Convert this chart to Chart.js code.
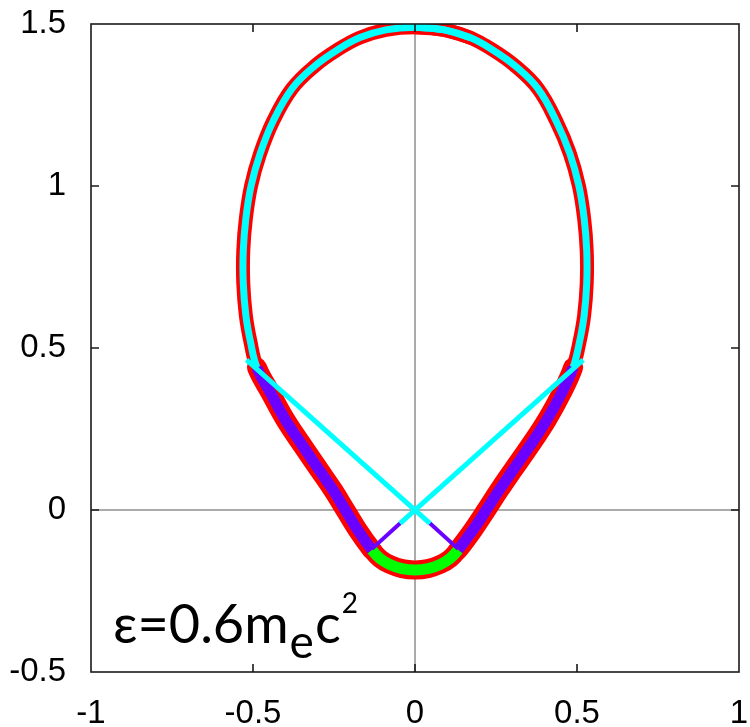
<!DOCTYPE html>
<html>
<head>
<meta charset="utf-8">
<script src="https://cdn.jsdelivr.net/npm/chart.js@4.4.0/dist/chart.umd.min.js"></script>
<style>
  html, body { margin: 0; padding: 0; background: #fff; }
  #wrap { position: relative; width: 750px; height: 727px; }
</style>
</head>
<body>
<div id="wrap"><canvas id="c" width="750" height="727"></canvas></div>
<script>
// ---- data ----
const xTickValues = [-1, -0.5, 0, 0.5, 1];
const xTickLabels = ['-1', '-0.5', '0', '0.5', '1'];
const yTickValues = [-0.5, 0, 0.5, 1, 1.5];
const yTickLabels = ['-0.5', '0', '0.5', '1', '1.5'];

// upper (cyan) boundary, right half: top -> right junction
const capRightX = [0.000,0.090,0.170,0.240,0.310,0.380,0.436,0.478,0.506,0.522,0.530,0.530,0.522,0.508,0.488];
const capRightY = [1.490,1.482,1.458,1.420,1.370,1.300,1.200,1.100,1.000,0.900,0.800,0.700,0.600,0.520,0.440];
// upper (cyan) boundary, left half: left junction -> top
const capLeftX = [-0.488,-0.508,-0.522,-0.530,-0.530,-0.522,-0.506,-0.478,-0.438,-0.380,-0.310,-0.240,-0.170,-0.090];
const capLeftY = [0.440,0.520,0.600,0.700,0.800,0.900,1.000,1.100,1.200,1.300,1.370,1.420,1.458,1.482];

// lower-right (purple) arm: below junction -> bowl
const rightArmX = [0.452,0.408,0.356,0.300,0.259,0.220,0.180,0.133];
const rightArmY = [0.360,0.280,0.200,0.120,0.060,0.000,-0.060,-0.123];
// bottom (green) bowl: right -> left
const bowlX = [0.108,0.078,0.040,0.000,-0.040,-0.078,-0.108];
const bowlY = [-0.150,-0.168,-0.181,-0.185,-0.181,-0.168,-0.150];
// lower-left (purple) arm: bowl -> below junction
const leftArmX = [-0.133,-0.178,-0.215,-0.252,-0.293,-0.348,-0.401,-0.445];
const leftArmY = [-0.123,-0.060,0.000,0.060,0.120,0.200,0.280,0.360];

// straight rays through the origin
const rayAX = [-0.520, 0.046];  const rayAY = [0.463, -0.041];
const tailAX = [0.046, 0.133];  const tailAY = [-0.041, -0.120];
const rayBX = [0.519, -0.046];  const rayBY = [0.463, -0.041];
const tailBX = [-0.046, -0.133]; const tailBY = [-0.041, -0.120];

// zero axes
const hZeroX = [-1, 1]; const hZeroY = [0, 0];
const vZeroX = [0, 0];  const vZeroY = [-0.5, 1.5];

// ---- build the closed boundary (one path, with a short overlap at the top) ----
const pts = (xs, ys) => xs.map((x, i) => ({ x: x, y: ys[i] }));
const loop = [], part = [];
function add(xs, ys, tag) { pts(xs, ys).forEach(p => { loop.push(p); part.push(tag); }); }
add(capRightX, capRightY, 'cap');
add(rightArmX, rightArmY, 'arm');
add(bowlX, bowlY, 'bowl');
add(leftArmX, leftArmY, 'arm');
add(capLeftX, capLeftY, 'cap');
add(capRightX.slice(0, 3), capRightY.slice(0, 3), 'cap');

const segPart = ctx => {
  const a = part[ctx.p0DataIndex], b = part[ctx.p1DataIndex];
  if (a === 'bowl' || b === 'bowl') return 'bowl';
  if (a === 'cap' && b === 'cap') return 'cap';
  return 'arm';
};
const innerColor = { cap: '#00ffff', arm: '#6a00ff', bowl: '#00ff00' };
const innerWidth = { cap: 7, arm: 11, bowl: 11 };
const redWidth = { cap: 14, arm: 20, bowl: 19 };

function ds(data, color, width, order, extra) {
  return Object.assign({
    data: data, showLine: true, borderColor: color, backgroundColor: color,
    borderWidth: width, pointRadius: 0, pointHoverRadius: 0, tension: 0,
    borderJoinStyle: 'round', borderCapStyle: 'butt', fill: false, order: order
  }, extra || {});
}

const datasets = [
  ds(pts(hZeroX, hZeroY), '#8f8f8f', 1.5, 20),
  ds(pts(vZeroX, vZeroY), '#8f8f8f', 1.5, 20),
  ds(loop, '#ff0000', 14, 15, {
    tension: 0.4, borderCapStyle: 'round',
    segment: { borderWidth: c => redWidth[segPart(c)] }
  }),
  ds(loop, '#00ffff', 7, 10, {
    tension: 0.4,
    segment: { borderColor: c => innerColor[segPart(c)], borderWidth: c => innerWidth[segPart(c)] }
  }),
  ds(pts(tailAX, tailAY), '#6a00ff', 4, 5),
  ds(pts(tailBX, tailBY), '#6a00ff', 4, 5),
  ds(pts(rayAX, rayAY), '#00ffff', 5, 4),
  ds(pts(rayBX, rayBY), '#00ffff', 5, 4)
];

const framePlugin = {
  id: 'frame',
  afterDatasetsDraw(chart) {
    const { ctx, chartArea: a, scales } = chart;
    ctx.save();
    ctx.strokeStyle = '#1a1a1a';
    ctx.lineWidth = 1.6;
    ctx.strokeRect(a.left, a.top, a.right - a.left, a.bottom - a.top);
    const tl = 8;
    ctx.beginPath();
    xTickValues.slice(1, -1).forEach(v => {
      const px = scales.x.getPixelForValue(v);
      ctx.moveTo(px, a.bottom); ctx.lineTo(px, a.bottom - tl);
      ctx.moveTo(px, a.top); ctx.lineTo(px, a.top + tl);
    });
    yTickValues.slice(1, -1).forEach(v => {
      const py = scales.y.getPixelForValue(v);
      ctx.moveTo(a.left, py); ctx.lineTo(a.left + tl, py);
      ctx.moveTo(a.right, py); ctx.lineTo(a.right - tl, py);
    });
    ctx.stroke();
    ctx.restore();
  },
  afterDraw(chart) {
    const ctx = chart.ctx;
    ctx.save();
    ctx.fillStyle = '#000';
    ctx.textBaseline = 'alphabetic';
    ctx.textAlign = 'left';
    let x = 113;
    const base = 643;
    ctx.font = '54px Lato, "Open Sans", sans-serif';
    const t1 = '\u03b5=0.6m';
    ctx.fillText(t1, x, base);
    x += ctx.measureText(t1).width + 1;
    ctx.font = '46px Lato, "Open Sans", sans-serif';
    ctx.fillText('e', x, base + 15);
    x += ctx.measureText('e').width + 1;
    ctx.font = '54px Lato, "Open Sans", sans-serif';
    ctx.fillText('c', x, base);
    x += ctx.measureText('c').width + 1;
    ctx.font = '28px Lato, "Open Sans", sans-serif';
    ctx.fillText('2', x, base - 30);
    ctx.restore();
  }
};

const tickFont = { family: '"Liberation Sans", Arial, sans-serif', size: 33 };
const noPad = s => { s.paddingTop = 0; s.paddingBottom = 0; s.paddingLeft = 0; s.paddingRight = 0; };

new Chart(document.getElementById('c'), {
  type: 'scatter',
  data: { datasets: datasets },
  options: {
    responsive: false,
    animation: false,
    events: [],
    layout: { padding: { top: 24, right: 11, left: 0, bottom: 0 } },
    plugins: { legend: { display: false }, tooltip: { enabled: false } },
    scales: {
      x: {
        type: 'linear', min: -1, max: 1,
        afterBuildTicks: s => { s.ticks = xTickValues.map(v => ({ value: v })); },
        ticks: { callback: (v, i) => xTickLabels[i], font: tickFont, color: '#000', padding: 22, maxRotation: 0, autoSkip: false },
        grid: { display: false, drawTicks: false },
        border: { display: false },
        afterFit: s => { s.height = 55; noPad(s); }
      },
      y: {
        type: 'linear', min: -0.5, max: 1.5,
        afterBuildTicks: s => { s.ticks = yTickValues.map(v => ({ value: v })); },
        ticks: { callback: (v, i) => yTickLabels[i], font: tickFont, color: '#000', padding: 25, autoSkip: false },
        grid: { display: false, drawTicks: false },
        border: { display: false },
        afterFit: s => { s.width = 91; noPad(s); }
      }
    }
  },
  plugins: [framePlugin]
});
</script>
</body>
</html>
